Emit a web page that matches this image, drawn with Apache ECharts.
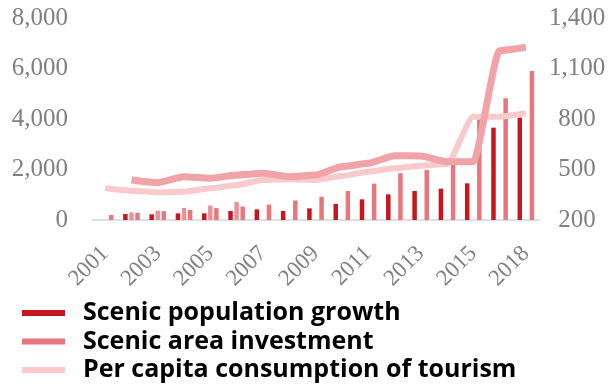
<!DOCTYPE html>
<html>
<head>
<meta charset="utf-8">
<script src="https://cdn.jsdelivr.net/npm/echarts@6/dist/echarts.min.js"></script>
<style>html,body{margin:0;padding:0;background:#fff}#c{width:609px;height:387px}</style>
</head>
<body>
<div id="c"></div>
<script>
const categories = ['2001','2002','2003','2004','2005','2006','2007','2008','2009','2010','2011','2012','2013','2014','2015','2016','2018'];
const populationGrowth = [null,238,225,264,264,356,422,356,462,634,818,1016,1148,1241,1452,3657,4053];
const investmentEarly = [null,300,370,480,570,710,null,null,null,null,null,null,null,null,null,null,null];
const areaInvestment = [200,280,350,400,470,530,610,770,920,1150,1440,1850,1980,2220,4160,4820,5900];
const investmentTrend = [null,438,422,457,448,467,477,457,467,517,537,582,580,546,546,1206,1226];
const perCapitaConsumption = [388,374,364,368,388,408,438,442,438,461,487,507,523,533,814,814,834];
const leftTicks = [0, 8000, 2000];
const rightTicks = [200, 1400, 300];

const fmt = v => v.toLocaleString('en-US');
const axisFont = {fontFamily: 'Liberation Serif', fontSize: 25, color: '#808080'};

const chart = echarts.init(document.getElementById('c'), null, {renderer: 'canvas'});
chart.setOption({
  animation: false,
  grid: {left: 92, right: 70, top: 18, bottom: 167, containLabel: false},
  legend: {
    orient: 'vertical', left: 22, top: 300, padding: 0,
    itemWidth: 43, itemHeight: 6, itemGap: 2.5, icon: 'rect',
    textStyle: {fontFamily: 'Open Sans', fontWeight: 'bold', fontSize: 25, color: '#000', lineHeight: 26, padding: [0,0,0,13]},
    data: ['Scenic population growth', 'Scenic area investment', 'Per capita consumption of tourism']
  },
  xAxis: {
    type: 'category', data: categories,
    axisLine: {lineStyle: {color: '#cfd5de', width: 1.5}},
    axisTick: {show: false},
    axisLabel: Object.assign({rotate: 45, interval: 1, margin: 30}, axisFont, {fontSize: 23})
  },
  yAxis: [
    {type: 'value', min: leftTicks[0], max: leftTicks[1], interval: leftTicks[2],
     splitLine: {show: false}, axisLine: {show: false}, axisTick: {show: false},
     axisLabel: Object.assign({formatter: fmt, margin: 24}, axisFont)},
    {type: 'value', min: rightTicks[0], max: rightTicks[1], interval: rightTicks[2],
     splitLine: {show: false}, axisLine: {show: false}, axisTick: {show: false},
     axisLabel: Object.assign({formatter: fmt, margin: 38, align: 'center'}, axisFont)}
  ],
  series: [
    {name: 'Scenic population growth', type: 'bar', data: populationGrowth, barWidth: 4.5, barGap: '35%',
     itemStyle: {color: '#c8161e'}},
    {name: 'Investment (early)', type: 'bar', data: investmentEarly, barWidth: 4.5, barGap: '35%',
     itemStyle: {color: '#ec9196'}},
    {name: 'Scenic area investment', type: 'bar', data: areaInvestment, barWidth: 4.5, barGap: '35%',
     itemStyle: {color: '#e8767c'}},
    {name: 'Investment trend', type: 'line', yAxisIndex: 1, data: investmentTrend, smooth: 0.2, smoothMonotone: 'x',
     symbol: 'none', z: 3, lineStyle: {color: '#f2a3a7', width: 7}, itemStyle: {color: '#f2a3a7'}},
    {name: 'Per capita consumption of tourism', type: 'line', yAxisIndex: 1, data: perCapitaConsumption, smooth: 0.2, smoothMonotone: 'x',
     symbol: 'none', z: 2, lineStyle: {color: '#f9cacc', width: 6}, itemStyle: {color: '#f9cacc'}}
  ]
});
</script>
</body>
</html>
